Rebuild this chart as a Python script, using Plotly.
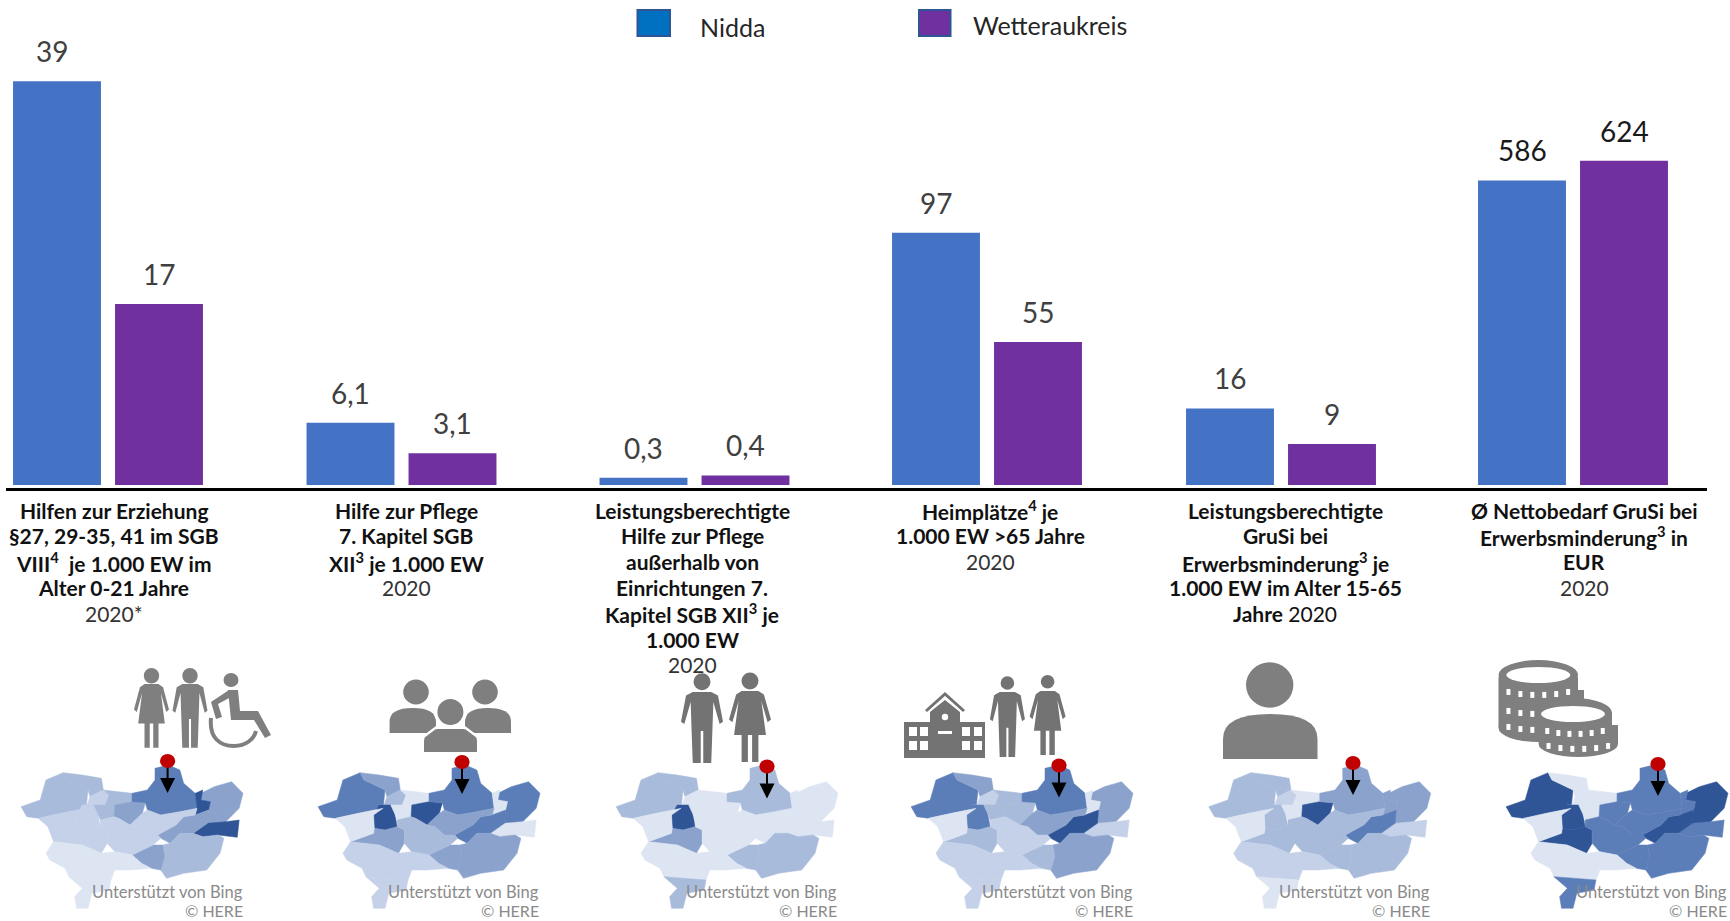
import plotly.graph_objects as go

W, H = 1730, 921
FONT = "Lato"

series_names = ["Nidda", "Wetteraukreis"]
nidda = [38.8, 6.1, 0.3, 97, 16.3, 586]
wetterau = [17.4, 3.1, 0.4, 55, 8.7, 624]
nidda_labels = ["39", "6,1", "0,3", "97", "16", "586"]
wetterau_labels = ["17", "3,1", "0,4", "55", "9", "624"]
panel_y_max = [46.6, 47.5, 20.2, 186.5, 103.2, 933]
label_colors = ["#404040", "#404040", "#404040", "#404040", "#404040", "#1a1a1a"]

category_lines = [
    ["<b>Hilfen zur Erziehung</b>", "<b>§27, 29-35, 41 im SGB</b>", "<b>VIII<sup>4</sup>  je 1.000 EW im</b>", "<b>Alter 0-21 Jahre</b>", "2020*"],
    ["<b>Hilfe zur Pflege</b>", "<b>7. Kapitel SGB</b>", "<b>XII<sup>3</sup> je 1.000 EW</b>", "2020"],
    ["<b>Leistungsberechtigte</b>", "<b>Hilfe zur Pflege</b>", "<b>außerhalb von</b>", "<b>Einrichtungen 7.</b>", "<b>Kapitel SGB XII<sup>3</sup> je</b>", "<b>1.000 EW</b>", "2020"],
    ["<b>Heimplätze<sup>4</sup> je</b>", "<b>1.000 EW &gt;65 Jahre</b>", "2020"],
    ["<b>Leistungsberechtigte</b>", "<b>GruSi bei</b>", "<b>Erwerbsminderung<sup>3</sup> je</b>", "<b>1.000 EW im Alter 15-65</b>", "<b>Jahre</b> 2020"],
    ["<b>Ø Nettobedarf GruSi bei</b>", "<b>Erwerbsminderung<sup>3</sup> in</b>", "<b>EUR</b>", "2020"],
]
category_centers = [114, 406, 692, 990, 1285, 1584]

panel_centers = [108, 401.5, 694.5, 987, 1281, 1573]
panel_width = 204
baseline_px = 485
nidda_label_shift = [-5, 0, 0, 0, 0, 0]

PALETTE = ["#dde5f3", "#c4d1e8", "#a8bbdb", "#8aa2cc", "#5c7eb8", "#2f5597"]

map_regions = {
    "A1": [(55,980),(105,960),(120,900),(165,878),(175,900),(230,930),(225,985),(160,1000),(100,1015),(70,1010)],
    "A2": [(165,878),(215,885),(265,895),(270,930),(235,950),(230,930),(175,900)],
    "B": [(235,950),(270,930),(285,945),(275,975),(245,975),(215,975),(225,985)],
    "C": [(215,975),(245,975),(255,1000),(262,1040),(230,1050),(202,1045),(200,1005)],
    "D": [(270,930),(345,940),(345,965),(300,975),(298,1010),(262,1020),(255,1000),(245,975),(275,975),(285,945)],
    "E": [(300,975),(345,965),(380,968),(372,1000),(340,1035),(310,1015),(298,1010)],
    "F": [(345,940),(385,930),(405,900),(405,865),(440,855),(470,870),(480,910),(510,940),(515,985),(470,995),(420,1005),(385,990),(380,968),(345,965)],
    "G": [(525,940),(560,920),(605,905),(635,940),(625,985),(590,1025),(540,1035),(545,990),(550,965),(525,960)],
    "H": [(510,940),(530,930),(525,960),(550,965),(545,990),(510,1005),(515,985)],
    "I": [(505,1060),(542,1030),(590,1025),(625,1020),(620,1072),(570,1065),(530,1070)],
    "J": [(412,1065),(460,1035),(480,1010),(510,1005),(545,990),(542,1030),(505,1060),(470,1060),(445,1090),(420,1075)],
    "K": [(340,1035),(372,1000),(385,990),(420,1005),(470,995),(515,985),(510,1005),(480,1010),(460,1035),(412,1065),(385,1065),(360,1040)],
    "L": [(425,1095),(445,1090),(470,1060),(505,1060),(530,1070),(570,1065),(585,1075),(575,1120),(540,1170),(480,1180),(435,1195),(420,1170),(430,1130)],
    "M": [(345,1125),(400,1095),(425,1095),(430,1130),(420,1170),(395,1165),(370,1150)],
    "N": [(140,1085),(200,1060),(202,1045),(230,1050),(262,1040),(280,1050),(280,1090),(265,1120),(215,1095)],
    "O": [(262,1020),(298,1010),(310,1015),(340,1035),(360,1040),(385,1065),(412,1065),(420,1075),(400,1095),(345,1125),(300,1115),(280,1090),(280,1050),(262,1040)],
    "P": [(100,1015),(160,1000),(225,985),(200,1005),(202,1045),(200,1060),(140,1085),(125,1040)],
    "Q": [(120,1120),(140,1085),(215,1095),(265,1120),(300,1115),(345,1125),(370,1150),(395,1165),(340,1170),(300,1170),(290,1200),(180,1190),(170,1165),(130,1140)],
    "R": [(180,1190),(290,1200),(285,1230),(240,1240),(230,1285),(200,1285),(195,1250),(215,1225)],
}
map_shades = [
    dict(A1=2,A2=2,B=1,C=1,D=2,E=3,F=4,G=3,H=5,I=5,J=3,K=1,L=2,M=3,N=1,O=1,P=1,Q=0,R=0),
    dict(A1=4,A2=3,B=2,C=5,D=0,E=5,F=4,G=4,H=0,I=0,J=4,K=3,L=3,M=3,N=3,O=2,P=0,Q=1,R=1),
    dict(A1=2,A2=2,B=0,C=5,D=0,E=0,F=2,G=0,H=0,I=0,J=0,K=0,L=2,M=2,N=3,O=0,P=0,Q=0,R=2),
    dict(A1=4,A2=3,B=1,C=4,D=2,E=2,F=4,G=3,H=0,I=1,J=5,K=3,L=3,M=2,N=2,O=1,P=0,Q=1,R=1),
    dict(A1=2,A2=2,B=1,C=2,D=0,E=5,F=3,G=3,H=3,I=1,J=4,K=2,L=2,M=2,N=2,O=2,P=0,Q=1,R=0),
    dict(A1=5,A2=0,B=0,C=5,D=0,E=4,F=4,G=5,H=4,I=4,J=5,K=4,L=4,M=4,N=5,O=4,P=0,Q=0,R=4),
]
map_dx = [0, 297, 595, 890, 1187.7, 1485]
pin_x = [167.6, 462, 767, 1059, 1353, 1658]
pin_y = [761, 762, 766.5, 765.5, 763, 764]
credit_right = [245, 540.6, 838.5, 1135, 1432, 1729]


def X(x):
    return x / W


def Y(y):
    return 1 - y / H


def path(points, close=True):
    s = "M" + " L".join(f"{X(x):.5f},{Y(y):.5f}" for x, y in points)
    return s + (" Z" if close else "")


shapes = []


def add_poly(points, fill, line=None, lw=0):
    shapes.append(dict(type="path", xref="paper", yref="paper", path=path(points),
                       fillcolor=fill, line=dict(color=line or fill, width=lw)))


def add_stroke(points, color, lw):
    shapes.append(dict(type="path", xref="paper", yref="paper", path=path(points, close=False),
                       line=dict(color=color, width=lw)))


def add_ellipse(cx, cy, rx, ry, fill):
    shapes.append(dict(type="circle", xref="paper", yref="paper", x0=X(cx - rx), x1=X(cx + rx),
                       y0=Y(cy + ry), y1=Y(cy - ry), fillcolor=fill, line=dict(width=0)))


def add_rect(x0, y0, x1, y1, fill):
    add_poly([(x0, y0), (x1, y0), (x1, y1), (x0, y1)], fill)


GREY = "#7f7f7f"
DGREY = "#737373"
MAN = [(-.22,0),(.22,0),(.38,.05),(.5,.42),(.42,.45),(.27,.14),(.25,.5),(.22,1),(.03,1),(.03,.55),(-.03,.55),(-.03,1),(-.22,1),(-.25,.5),(-.27,.14),(-.42,.45),(-.5,.42),(-.38,.05)]
WOMAN = [(-.2,0),(.2,0),(.33,.05),(.5,.4),(.42,.44),(.27,.14),(.38,.62),(.2,.62),(.2,1),(.05,1),(.05,.62),(-.05,.62),(-.05,1),(-.2,1),(-.2,.62),(-.38,.62),(-.27,.14),(-.42,.44),(-.5,.4),(-.33,.05)]


def figure_icon(unit, cx, head_y, head_r, shoulder_y, foot_y, width, color):
    add_ellipse(cx, head_y, head_r, head_r, color)
    add_poly([(cx + u * width, shoulder_y + v * (foot_y - shoulder_y)) for u, v in unit], color)


def bust(cx, head_y, rx, ry, x0, x1, top, bottom, color=GREY):
    add_ellipse(cx, head_y, rx, ry, color)
    mid = top + (bottom - top) * 0.55
    p = (f"M{X(x0):.5f},{Y(bottom):.5f} L{X(x0):.5f},{Y(mid):.5f} "
         f"Q{X(x0):.5f},{Y(top):.5f} {X((x0+x1)/2):.5f},{Y(top):.5f} "
         f"Q{X(x1):.5f},{Y(top):.5f} {X(x1):.5f},{Y(mid):.5f} L{X(x1):.5f},{Y(bottom):.5f} Z")
    shapes.append(dict(type="path", xref="paper", yref="paper", path=p, fillcolor=color, line=dict(width=0)))


def dash_row(cx, rx, base, sag, x_limit=None):
    n = 6
    for k in range(n):
        dx = (k - (n - 1) / 2) / n * 2 * rx * 0.9
        if x_limit is not None and cx + dx > x_limit:
            continue
        yy = base + sag * (1 - (dx / rx) ** 2) ** 0.5
        add_rect(cx + dx - 2, yy - 3, cx + dx + 2, yy + 3, "white")


# maps
for dx, shades in zip(map_dx, map_shades):
    for key, pts in map_regions.items():
        c = PALETTE[shades[key]]
        add_poly([(zx / 2.613 + dx, zy / 3 + 480) for zx, zy in pts], c, c, 0.5)

# pins
for px, py in zip(pin_x, pin_y):
    add_stroke([(px, py), (px, py + 18)], "black", 2)
    add_poly([(px - 7.5, py + 17), (px + 7.5, py + 17), (px, py + 32)], "black")
    add_ellipse(px, py, 7.6, 6.9, "#c00000")

# icons: panel 1
figure_icon(WOMAN, 151.5, 675.7, 7.7, 684, 747.7, 35, GREY)
figure_icon(MAN, 190, 675.7, 7.7, 684, 747.7, 35, GREY)
add_ellipse(231, 680, 7.5, 7, GREY)
add_poly([(228, 690), (238, 690), (240, 711), (258, 711), (271, 735), (265, 738), (254, 720), (231, 720)], GREY)
add_poly([(229, 690), (231, 697), (218, 704), (222, 717), (216, 719), (211, 702)], GREY)
shapes.append(dict(type="path", xref="paper", yref="paper",
                   path=f"M{X(211):.5f},{Y(718):.5f} C{X(209):.5f},{Y(738):.5f} {X(220):.5f},{Y(746):.5f} {X(234):.5f},{Y(746):.5f} "
                        f"C{X(246):.5f},{Y(746):.5f} {X(254):.5f},{Y(739):.5f} {X(256):.5f},{Y(731):.5f}",
                   line=dict(color=GREY, width=4)))
# panel 2
bust(416, 692, 12.8, 12.5, 389.6, 436, 708, 733)
bust(485, 692, 12.8, 12.5, 465, 511, 708, 733)
add_ellipse(450.4, 712, 16.5, 15.5, "white")
bust(450.4, 712, 13, 13, 424, 477, 728, 752)
add_poly([(421, 752), (424, 735), (436, 726), (465, 726), (477, 735), (480, 752), (477, 752), (477, 738), (465, 729), (436, 729), (424, 738), (424, 752)], "white")
# panel 3
figure_icon(MAN, 702, 681.7, 8.5, 692, 763, 42, DGREY)
figure_icon(WOMAN, 750, 681, 8.5, 691, 762, 42, DGREY)
# panel 4
add_stroke([(926, 711), (945, 694), (964, 711)], DGREY, 3)
add_poly([(930, 722), (930, 712), (945, 700), (960, 712), (960, 722), (985, 722), (985, 758), (904, 758), (904, 722)], DGREY)
add_ellipse(945, 717, 3.2, 3.2, "white")
for wx in [909, 920, 962, 974]:
    for wy in [727, 741]:
        add_rect(wx, wy, wx + 8, wy + 9, "white")
add_rect(938, 731, 952, 734, "white")
figure_icon(MAN, 1007.4, 683, 6.8, 692, 757, 35, DGREY)
figure_icon(WOMAN, 1047.6, 681.7, 6.8, 691, 755, 36, DGREY)
# panel 5
bust(1269.7, 685, 23.7, 22.7, 1223, 1317.5, 714, 759)
# panel 6: upper coin stack
add_rect(1498.5, 677, 1578, 728, GREY)
add_ellipse(1538.3, 728, 39.8, 14, GREY)
add_ellipse(1538.3, 675, 39.8, 15, GREY)
add_rect(1570, 690, 1584, 712, GREY)
add_ellipse(1538.3, 675, 32, 8, "white")
dash_row(1538.3, 39.8, 686, 9)
dash_row(1538.3, 39.8, 705, 9, 1545)
dash_row(1538.3, 39.8, 721, 9, 1545)
# panel 6: lower coin stack
add_ellipse(1575, 713, 37, 15, GREY)
add_rect(1538.7, 713, 1612, 730, GREY)
add_rect(1538.7, 725, 1618, 744, GREY)
add_ellipse(1578.3, 744, 39.7, 13, GREY)
add_ellipse(1573, 714, 32, 8, "white")
dash_row(1575, 37, 725, 9)
dash_row(1578.3, 39.7, 740, 9)

# legend swatches
shapes.append(dict(type="rect", xref="paper", yref="paper", x0=X(637.5), x1=X(670), y0=Y(36), y1=Y(10),
                   fillcolor="#0070c0", line=dict(color="#2f5597", width=2)))
shapes.append(dict(type="rect", xref="paper", yref="paper", x0=X(919), x1=X(950.5), y0=Y(36), y1=Y(10),
                   fillcolor="#7030a0", line=dict(color="#2f5597", width=2)))
# baseline
shapes.append(dict(type="line", xref="paper", yref="paper", x0=X(6), x1=X(1707), y0=Y(489.5), y1=Y(489.5),
                   line=dict(color="black", width=3)))

fig = go.Figure()
annotations = []
layout_axes = {}
for i in range(6):
    n = "" if i == 0 else str(i + 1)
    x_ref, y_ref = f"x{n}", f"y{n}"
    layout_axes[f"xaxis{n}"] = dict(domain=[X(panel_centers[i] - panel_width / 2), X(panel_centers[i] + panel_width / 2)],
                                    range=[-0.5, 1.5], visible=False, fixedrange=True, anchor=y_ref)
    layout_axes[f"yaxis{n}"] = dict(domain=[Y(baseline_px), 1], range=[0, panel_y_max[i]], visible=False,
                                    fixedrange=True, anchor=x_ref)
    fig.add_trace(go.Bar(x=[0], y=[nidda[i]], width=[0.862], marker=dict(color="#4472c4", line=dict(width=0)),
                         name=series_names[0], showlegend=False, xaxis=x_ref, yaxis=y_ref))
    fig.add_trace(go.Bar(x=[1], y=[wetterau[i]], width=[0.862], marker=dict(color="#7030a0", line=dict(width=0)),
                         name=series_names[1], showlegend=False, xaxis=x_ref, yaxis=y_ref))
    for xv, yv, txt, sh in [(0, nidda[i], nidda_labels[i], nidda_label_shift[i]), (1, wetterau[i], wetterau_labels[i], 0)]:
        annotations.append(dict(x=xv, y=yv, xref=x_ref, yref=y_ref, text=txt, showarrow=False, yanchor="bottom",
                                yshift=11, xshift=sh,
                                font=dict(family=FONT, size=28, color=label_colors[i])))
    for k, line in enumerate(category_lines[i]):
        annotations.append(dict(x=X(category_centers[i]), y=Y(510 + k * 25.8), xref="paper", yref="paper", text=line,
                                showarrow=False, xanchor="center", yanchor="middle",
                                font=dict(family=FONT, size=21, color="#111111" if "<b>" in line else "#333333")))
    annotations.append(dict(x=X(credit_right[i]), y=Y(892), xref="paper", yref="paper", text="Unterstützt von Bing",
                            showarrow=False, xanchor="right", yanchor="middle",
                            font=dict(family=FONT, size=16.5, color="#8a8a8a")))
    annotations.append(dict(x=X(credit_right[i]), y=Y(910.5), xref="paper", yref="paper", text="© HERE",
                            showarrow=False, xanchor="right", yanchor="middle",
                            font=dict(family=FONT, size=16, color="#8a8a8a")))

annotations.append(dict(x=X(698), y=Y(27), xref="paper", yref="paper", text=series_names[0], showarrow=False,
                        xanchor="left", yanchor="middle", font=dict(family=FONT, size=25, color="#262626")))
annotations.append(dict(x=X(971), y=Y(25), xref="paper", yref="paper", text=series_names[1], showarrow=False,
                        xanchor="left", yanchor="middle", font=dict(family=FONT, size=25, color="#262626")))

fig.update_layout(width=W, height=H, margin=dict(l=0, r=0, t=0, b=0), paper_bgcolor="white", plot_bgcolor="white",
                  hovermode=False, shapes=shapes, annotations=annotations, **layout_axes)
fig.write_html("out.html", config=dict(displayModeBar=False),
               post_script="document.body.style.margin='0';document.documentElement.style.overflow='hidden';")
